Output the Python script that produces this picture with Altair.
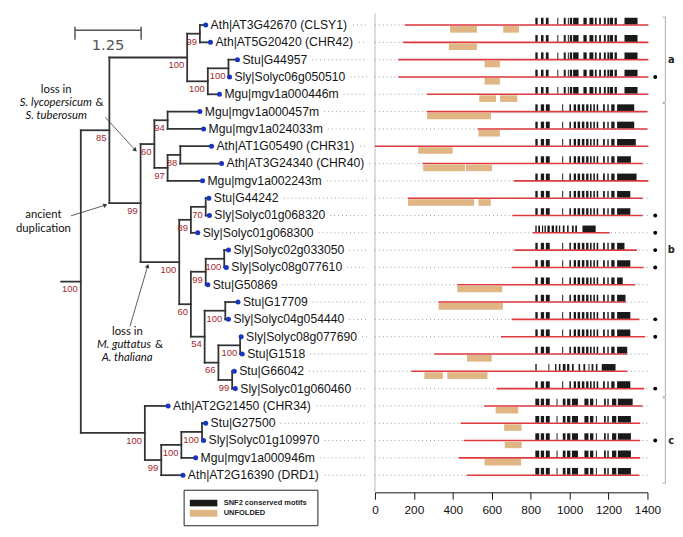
import math
import altair as alt
import pandas as pd

# ---------------- data ----------------
leaf_labels = [
    "Ath|AT3G42670 (CLSY1)", "Ath|AT5G20420 (CHR42)", "Stu|G44957", "Sly|Solyc06g050510",
    "Mgu|mgv1a000446m", "Mgu|mgv1a000457m", "Mgu|mgv1a024033m", "Ath|AT1G05490 (CHR31)",
    "Ath|AT3G24340 (CHR40)", "Mgu|mgv1a002243m", "Stu|G44242", "Sly|Solyc01g068320",
    "Sly|Solyc01g068300", "Sly|Solyc02g033050", "Sly|Solyc08g077610", "Stu|G50869",
    "Stu|G17709", "Sly|Solyc04g054440", "Sly|Solyc08g077690", "Stu|G1518", "Stu|G66042",
    "Sly|Solyc01g060460", "Ath|AT2G21450 (CHR34)", "Stu|G27500", "Sly|Solyc01g109970",
    "Mgu|mgv1a000946m", "Ath|AT2G16390 (DRD1)"]
# distance of each leaf from the root (substitutions/site)
leaf_depth = [2.36, 2.45, 2.96, 2.81, 2.62, 2.25, 2.32, 2.47, 2.66, 2.30, 2.42, 2.43, 2.21,
              2.79, 2.75, 2.40, 2.97, 2.79, 3.03, 3.05, 2.90, 2.92, 1.65, 2.36, 2.32, 2.17, 1.93]

# internal nodes: name, depth, bootstrap support, children (leaf numbers or node names)
node_name = ["root", "nA", "na", "na1", "na2", "na3", "nB", "nC1", "n94", "n97", "n88",
             "nC2", "n89", "n70", "n60b", "n99b", "n100b", "n54", "n100c", "n66", "n100d",
             "n99c", "nC", "n99d", "n100e", "n100f"]
node_depth = [0.0, 0.54, 2.01, 2.25, 2.40, 2.79, 1.13, 1.39, 1.64, 1.64, 1.88,
              1.86, 2.08, 2.36, 2.08, 2.36, 2.71, 2.34, 2.73, 2.60, 3.01,
              2.86, 1.21, 1.52, 1.90, 2.29]
node_support = ["100", "85", "100", "99", "100", "100", "99", "60", "94", "97", "88",
                "100", "89", "70", "60", "99", "100", "54", "100", "66", "100",
                "99", "100", "99", "100", "100"]
node_children = [["nA", "nC"], ["na", "nB"], ["na1", "na2"], [1, 2], ["na3", 5], [3, 4],
                 ["nC1", "nC2"], ["n94", "n97"], [6, 7], ["n88", 10], [8, 9],
                 ["n89", "n60b"], ["n70", 13], [11, 12], ["n99b", "n54"], ["n100b", 16],
                 [14, 15], ["n100c", "n66"], [17, 18], ["n100d", "n99c"], [19, 20],
                 [21, 22], [23, "n99d"], ["n100e", 27], ["n100f", 26], [24, 25]]
root_stub = -0.37

# protein extent in the alignment (aa)
prot_start = [153, 145, 120, 120, 268, 268, 529, 0, 246, 714, 170, 706, 810, 716, 702,
              423, 327, 702, 647, 305, 187, 625, 561, 440, 456, 431, 473]
prot_end = [1405, 1405, 1405, 1405, 1405, 1400, 1400, 1405, 1375, 1405, 1375, 1375, 1206,
            1346, 1380, 1336, 1290, 1358, 1388, 1296, 1296, 1383, 1375, 1363, 1363, 1363, 1358]
unfolded = [[(386, 524), (659, 740)], [(380, 524)], [(563, 642)], [(563, 642)],
            [(536, 622), (643, 731)], [(268, 596)], [(532, 642)], [(222, 399)],
            [(248, 462), (467, 601)], [], [(170, 510), (532, 595)], [], [], [], [],
            [(423, 654)], [(327, 657)], [], [], [(473, 600)], [(254, 349), (372, 578)], [],
            [(620, 736)], [(664, 753)], [(667, 754)], [(563, 751)], []]

# SNF2 conserved motif patterns (aa positions) and the end of the last motif per row
motif_A = [(824, 836), (853, 866), (878, 892), (937, 942), (970, 980), (991, 996),
           (1001, 1013), (1018, 1046), (1071, 1088), (1102, 1122), (1130, 1139),
           (1152, 1161), (1176, 1186), (1194, 1203), (1206, 1223), (1231, 1243), (1282, 0)]
motif_B = [(824, 836), (852, 869), (878, 898), (962, 967), (999, 1007), (1021, 1033),
           (1041, 1054), (1063, 1076), (1085, 1097), (1105, 1113), (1122, 1130),
           (1139, 1147), (1172, 1181), (1194, 1201), (1214, 1231), (1244, 0)]
motif_C = [(824, 844), (852, 869), (878, 898), (933, 938), (965, 979), (987, 1004),
           (1012, 1043), (1076, 1097), (1105, 1122), (1135, 1140), (1177, 1186),
           (1194, 1201), (1218, 1240), (1248, 0)]
motif_D = [(824, 831), (839, 848), (858, 864), (871, 878), (886, 898), (908, 920),
           (928, 937), (945, 952), (965, 974), (987, 995), (1012, 1021), (1029, 1038),
           (1066, 0)]
motif_E = [(824, 831), (891, 896), (925, 932), (945, 953), (965, 979), (987, 999),
           (1012, 1021), (1046, 1054), (1071, 1080), (1097, 1102), (1113, 1122),
           (1135, 1143), (1165, 0)]
motif_pattern = ["A"] * 5 + ["B"] * 7 + ["D"] + ["B"] * 7 + ["E"] + ["B"] + ["C"] * 5
motif_last_end = [1349, 1349, 1349, 1349, 1349, 1332, 1332, 1340, 1315, 1344, 1312, 1312,
                  1134, 1282, 1312, 1273, 1287, 1312, 1312, 1296, 1236, 1312, 1324, 1315,
                  1315, 1315, 1315]

sly_rows = [4, 12, 13, 14, 15, 18, 19, 22, 25]
group_names = ["a", "b", "c"]
group_first = [1, 6, 23]
group_last = [5, 22, 27]
axis_ticks = [0, 200, 400, 600, 800, 1000, 1200, 1400]

# ---------------- layout constants ----------------
TREE_W, DOM_W, H = 365, 277, 487
TX = [-1.3755, 5.409]
RY = [0.318, 27.99]
DX = [0, 1400]
PXU = TREE_W / (TX[1] - TX[0])
PXR = H / (RY[1] - RY[0])

TREE_COL = "#333333"
RED = "#e0393e"
TAN = "#dfb684"
DARK = "#1a1a1a"
BLUE = "#1736bd"
SUP = "#a3282b"
FONT = "Liberation Sans"
ANN_FONT = "Lato"


def xt(**kw):
    return alt.X("x:Q", scale=alt.Scale(domain=TX, nice=False, zero=False), axis=None, **kw)


def yt(field="y"):
    return alt.Y(f"{field}:Q", scale=alt.Scale(domain=RY, nice=False, zero=False, reverse=True), axis=None)


DOM_AXIS = alt.Axis(values=axis_ticks, format="d", grid=False, title=None, labelFont=FONT,
                    labelFontSize=12, labelColor="#111", domainColor="#111", tickColor="#111",
                    tickSize=7, labelPadding=6, domainWidth=1, labelFlush=False)


def xd():
    return alt.X("x:Q", scale=alt.Scale(domain=DX, nice=False, zero=False), axis=DOM_AXIS)


# ---------------- tree geometry ----------------
depth = {n: d for n, d in zip(node_name, node_depth)}
kids = {n: c for n, c in zip(node_name, node_children)}
supp = {n: s for n, s in zip(node_name, node_support)}


def ypos(c):
    if isinstance(c, int):
        return float(c)
    ch = kids[c]
    return (ypos(ch[0]) + ypos(ch[-1])) / 2


def xpos(c):
    return leaf_depth[c - 1] if isinstance(c, int) else depth[c]


segs = []
for n in node_name:
    ch = kids[n]
    segs.append(dict(x=depth[n], x2=depth[n], y=ypos(ch[0]), y2=ypos(ch[-1])))
    for c in ch:
        segs.append(dict(x=depth[n], x2=xpos(c), y=ypos(c), y2=ypos(c)))
segs.append(dict(x=root_stub, x2=0.0, y=ypos("root"), y2=ypos("root")))
seg_df = pd.DataFrame(segs)

sup_df = pd.DataFrame([dict(x=depth[n], y=ypos(n), t=supp[n]) for n in node_name])

leaf_df = pd.DataFrame(dict(x=leaf_depth, y=[float(i + 1) for i in range(27)], t=leaf_labels))

# approximate Arial / Liberation Sans advance widths (em)
W = {"A": .667, "C": .722, "D": .722, "G": .778, "H": .722, "L": .556, "M": .833, "R": .722,
     "S": .667, "T": .611, "Y": .667, "a": .556, "g": .556, "h": .556, "l": .222, "m": .833,
     "o": .556, "t": .278, "u": .556, "v": .5, "y": .5, "c": .5, "|": .26, " ": .278,
     "(": .333, ")": .333}
LEAF_FS = 12.4


def text_w(s, fs):
    return sum(W.get(ch, .556) for ch in s) * fs


lead = []
for i, s in enumerate(leaf_labels):
    x0 = leaf_depth[i] + (5 + text_w(s, LEAF_FS) + 5) / PXU
    lead.append(dict(x=x0, x2=TX[1], y=float(i + 1)))
lead_df = pd.DataFrame(lead)

# ---------------- tree panel layers ----------------
tree_lines = alt.Chart(seg_df).mark_rule(color=TREE_COL, strokeWidth=1.8, strokeCap="square").encode(
    x=xt(), x2="x2:Q", y=yt(), y2="y2:Q")
leaders = alt.Chart(lead_df).mark_rule(color="#999", strokeWidth=1, strokeDash=[1, 3]).encode(
    x=xt(), x2="x2:Q", y=yt())
dots = alt.Chart(leaf_df).mark_point(filled=True, size=26, color=BLUE, opacity=1).encode(x=xt(), y=yt())
names = alt.Chart(leaf_df).mark_text(align="left", baseline="middle", dx=5, fontSize=LEAF_FS,
                                     font=FONT, color="#151515").encode(x=xt(), y=yt(), text="t:N")
sups = alt.Chart(sup_df).mark_text(align="right", baseline="middle", dx=-3, dy=8, fontSize=9.6,
                                   font=FONT, color=SUP).encode(x=xt(), y=yt(), text="t:N")

# scale bar (1.25 units)
sb_y = 1.30
sb_df = pd.DataFrame([
    dict(x=-0.11, x2=1.14, y=sb_y, y2=sb_y),
    dict(x=-0.11, x2=-0.11, y=1.10, y2=1.85),
    dict(x=1.14, x2=1.14, y=1.10, y2=1.85)])
scalebar = alt.Chart(sb_df).mark_rule(color="#555", strokeWidth=1.5).encode(x=xt(), x2="x2:Q", y=yt(), y2="y2:Q")
sb_text = alt.Chart(pd.DataFrame([dict(x=0.515, y=2.15, t="1.25")])).mark_text(
    fontSize=15, font="DejaVu Sans", color="#555", baseline="middle").encode(x=xt(), y=yt(), text="t:N")

# annotations
ANN_FS = 11.5
ann_plain = pd.DataFrame([
    dict(x=-0.465, y=4.75, t="loss in", a="center"),
    dict(x=0.279, y=5.505, t="&", a="left"),
    dict(x=-0.706, y=11.95, t="ancient", a="center"),
    dict(x=-0.706, y=12.80, t="duplication", a="center"),
    dict(x=0.88, y=18.73, t="loss in", a="center"),
    dict(x=1.40, y=19.483, t="&", a="left")])
ann_ital = pd.DataFrame([
    dict(x=0.21, y=5.505, t="S. lycopersicum"),
    dict(x=-0.465, y=6.26, t="S. tuberosum"),
    dict(x=1.325, y=19.483, t="M. guttatus"),
    dict(x=0.875, y=20.24, t="A. thaliana")])
ann_layers = []
for a in ["center", "left"]:
    ann_layers.append(alt.Chart(ann_plain[ann_plain.a == a]).mark_text(
        align=a, baseline="middle", fontSize=ANN_FS, font=ANN_FONT, color="#111").encode(
        x=xt(), y=yt(), text="t:N"))
ann_layers.append(alt.Chart(ann_ital.iloc[[0, 2]]).mark_text(
    align="right", baseline="middle", fontSize=ANN_FS, font=ANN_FONT, fontStyle="italic",
    color="#111").encode(x=xt(), y=yt(), text="t:N"))
ann_layers.append(alt.Chart(ann_ital.iloc[[1, 3]]).mark_text(
    align="center", baseline="middle", fontSize=ANN_FS, font=ANN_FONT, fontStyle="italic",
    color="#111").encode(x=xt(), y=yt(), text="t:N"))

arrows = [((0.465, 6.34), (1.03, 8.22)), ((-0.186, 12.02), (0.465, 11.40)),
          ((0.929, 18.40), (1.264, 14.92))]
arr_df = pd.DataFrame([dict(x=a[0], x2=b[0], y=a[1], y2=b[1]) for a, b in arrows])
head_df = pd.DataFrame([dict(x=b[0], y=b[1],
                             ang=math.degrees(math.atan2((b[1] - a[1]) * PXR, (b[0] - a[0]) * PXU)) % 360)
                        for a, b in arrows])
arr_lines = alt.Chart(arr_df).mark_rule(color="#333", strokeWidth=0.8).encode(x=xt(), x2="x2:Q", y=yt(), y2="y2:Q")
arr_heads = alt.Chart(head_df).mark_point(shape="triangle-right", filled=True, size=22, color="#333",
                                          opacity=1).encode(x=xt(), y=yt(), angle=alt.Angle("ang:Q", scale=None))

# legend box
leg_box = alt.Chart(pd.DataFrame([dict(x=1.952, x2=4.48, y=27.87, y2=29.92)])).mark_rect(
    fill="white", stroke="#222", strokeWidth=1).encode(x=xt(), x2="x2:Q", y=yt(), y2="y2:Q")
leg_sw = alt.Chart(pd.DataFrame([dict(x=2.06, x2=2.58, y=28.42, y2=28.80, c=DARK),
                                 dict(x=2.06, x2=2.58, y=29.00, y2=29.40, c=TAN)])).mark_rect().encode(
    x=xt(), x2="x2:Q", y=yt(), y2="y2:Q", color=alt.Color("c:N", scale=None))
leg_tx = alt.Chart(pd.DataFrame([dict(x=2.70, y=28.61, t="SNF2 conserved motifs"),
                                 dict(x=2.70, y=29.20, t="UNFOLDED")])).mark_text(
    align="left", baseline="middle", fontSize=7.6, font=FONT, fontWeight="bold", color="#222").encode(
    x=xt(), y=yt(), text="t:N")

tree = alt.layer(leaders, tree_lines, sups, dots, names, scalebar, sb_text, *ann_layers,
                 arr_lines, arr_heads, leg_box, leg_sw, leg_tx).properties(width=TREE_W, height=H)

# ---------------- domain panel ----------------
rows = [float(i + 1) for i in range(27)]
dot_df = pd.DataFrame(dict(x=[0] * 27, x2=[1408] * 27, y=rows))
prot_df = pd.DataFrame(dict(x=prot_start, x2=prot_end, y=rows))
unf = []
for i, blocks in enumerate(unfolded):
    for a, b in blocks:
        unf.append(dict(x=a, x2=b, y=i + 1.06, y2=i + 1.44))
unf_df = pd.DataFrame(unf)
patterns = {"A": motif_A, "B": motif_B, "C": motif_C, "D": motif_D, "E": motif_E}
mot = []
for i, p in enumerate(motif_pattern):
    for a, b in patterns[p]:
        mot.append(dict(x=a, x2=(b if b else motif_last_end[i]), y=i + 1 - 0.42, y2=i + 1 - 0.04))
mot_df = pd.DataFrame(mot)
bul_df = pd.DataFrame(dict(x=[1440] * len(sly_rows), y=[float(r) for r in sly_rows]))
br = []
for g, a, b in zip(group_names, group_first, group_last):
    br.append(dict(x=1492, x2=1492, y=a - 0.46, y2=b + 0.46))
    br.append(dict(x=1478, x2=1492, y=a - 0.46, y2=a - 0.46))
    br.append(dict(x=1478, x2=1492, y=b + 0.46, y2=b + 0.46))
br_df = pd.DataFrame(br)
brl_df = pd.DataFrame(dict(x=[1522] * 3, y=[(a + b) / 2 for a, b in zip(group_first, group_last)],
                           t=group_names))

d_dots = alt.Chart(dot_df).mark_rule(color="#999", strokeWidth=1, strokeDash=[1, 3]).encode(
    x=xd(), x2="x2:Q", y=yt())
d_vline = alt.Chart(pd.DataFrame([dict(x=0, y=RY[0], y2=RY[1])])).mark_rule(
    color="#bbbbbb", strokeWidth=1).encode(x=xd(), y=yt(), y2="y2:Q")
d_prot = alt.Chart(prot_df).mark_rule(color=RED, strokeWidth=1.6).encode(x=xd(), x2="x2:Q", y=yt())
d_unf = alt.Chart(unf_df).mark_rect(color=TAN).encode(x=xd(), x2="x2:Q", y=yt(), y2="y2:Q")
d_mot = alt.Chart(mot_df).mark_rect(color=DARK).encode(x=xd(), x2="x2:Q", y=yt(), y2="y2:Q")
d_bul = alt.Chart(bul_df).mark_point(filled=True, size=16, color="#000", opacity=1).encode(x=xd(), y=yt())
d_br = alt.Chart(br_df).mark_rule(color="#aaa", strokeWidth=1).encode(x=xd(), x2="x2:Q", y=yt(), y2="y2:Q")
d_brl = alt.Chart(brl_df).mark_text(fontSize=10, font="DejaVu Sans", fontWeight="bold", color="#222",
                                    baseline="middle").encode(x=xd(), y=yt(), text="t:N")

dom = alt.layer(d_dots, d_vline, d_prot, d_unf, d_mot, d_bul, d_br, d_brl).properties(
    width=DOM_W, height=H)

chart = alt.hconcat(tree, dom, spacing=0).resolve_scale(x="independent", y="independent").properties(
    padding=0, background="white").configure_view(stroke="transparent", strokeWidth=0)

chart.save("out.html", embed_options={"renderer": "svg", "actions": False})
